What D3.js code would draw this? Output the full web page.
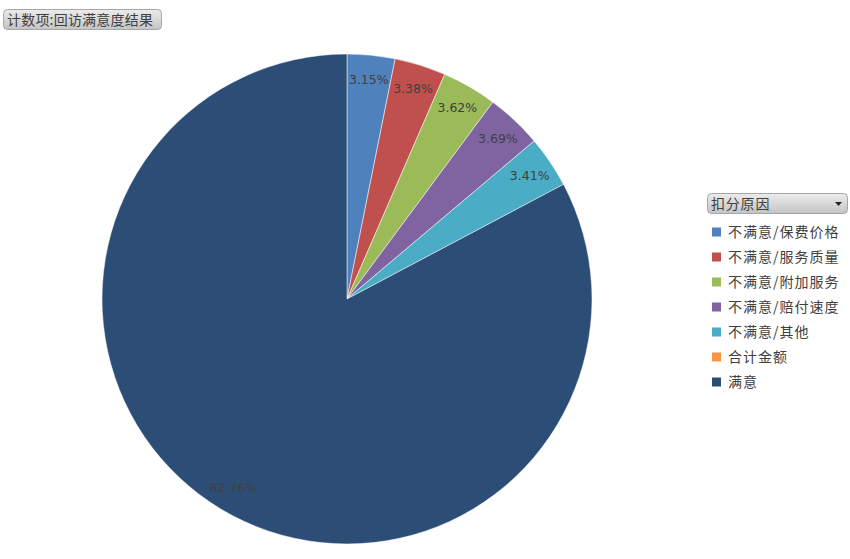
<!DOCTYPE html>
<html>
<head>
<meta charset="utf-8">
<script src="https://cdn.jsdelivr.net/npm/d3@7"></script>
<style>
  body { margin: 0; background: #fff; }
  text { font-family: "Noto Sans CJK SC", "DejaVu Sans", sans-serif; }
</style>
</head>
<body>
<svg id="chart" width="850" height="559"></svg>
<script>
var categories = ["不满意/保费价格", "不满意/服务质量", "不满意/附加服务", "不满意/赔付速度", "不满意/其他", "合计金额", "满意"];
var values = [3.15, 3.38, 3.62, 3.69, 3.41, 0, 82.76];
var colors = ["#4F81BD", "#C0504D", "#9BBB59", "#8064A2", "#4BACC6", "#F79646", "#2C4D75"];
var title = "计数项:回访满意度结果";
var legendTitle = "扣分原因";

var svg = d3.select("#chart");
var cx = 347, cy = 299, radius = 245;

var defs = svg.append("defs");
var grad = defs.append("linearGradient").attr("id", "btn").attr("x1", 0).attr("y1", 0).attr("x2", 0).attr("y2", 1);
grad.append("stop").attr("offset", "0%").attr("stop-color", "#ececec");
grad.append("stop").attr("offset", "100%").attr("stop-color", "#c4c4c4");

var data = categories.map((c, i) => ({name: c, value: values[i], color: colors[i]}));

var pie = d3.pie().sort(null).value(d => d.value);
var arc = d3.arc().innerRadius(0).outerRadius(radius);
var labelArc = d3.arc().innerRadius(radius * 0.9).outerRadius(radius * 0.9);

var g = svg.append("g").attr("transform", `translate(${cx},${cy})`);
var arcs = pie(data).filter(d => d.value > 0);

g.selectAll("path")
  .data(arcs)
  .enter().append("path")
  .attr("d", arc)
  .attr("fill", d => d.data.color)
  .attr("stroke", "#fff")
  .attr("stroke-width", 0.5);

g.selectAll("text.lbl")
  .data(arcs)
  .enter().append("text")
  .attr("class", "lbl")
  .attr("transform", d => `translate(${labelArc.centroid(d)})`)
  .attr("text-anchor", "middle")
  .attr("dy", "0.35em")
  .attr("font-size", 12.5)
  .attr("fill", "#404040")
  .style("font-family", "'DejaVu Sans', sans-serif")
  .text(d => d.data.value.toFixed(2) + "%");

// title button
svg.append("rect")
  .attr("x", 3.5).attr("y", 9.5).attr("width", 158).attr("height", 20)
  .attr("rx", 4).attr("fill", "url(#btn)").attr("stroke", "#a6a6a6");
svg.append("text")
  .attr("x", 7).attr("y", 25)
  .attr("font-size", 14).attr("fill", "#404040")
  .style("letter-spacing", "0.2px")
  .text(title);

// legend
var legend = svg.append("g").attr("transform", "translate(707,193)");
legend.append("rect")
  .attr("x", 0.5).attr("y", 0.5).attr("width", 140).attr("height", 20)
  .attr("rx", 4).attr("fill", "url(#btn)").attr("stroke", "#a6a6a6");
legend.append("text")
  .attr("x", 4).attr("y", 16)
  .attr("font-size", 14).attr("fill", "#404040")
  .style("letter-spacing", "0.8px")
  .text(legendTitle);
legend.append("path")
  .attr("d", "M128,9 L135,9 L131.5,13 Z")
  .attr("fill", "#222");

var items = legend.selectAll("g.item")
  .data(data)
  .enter().append("g")
  .attr("class", "item")
  .attr("transform", (d, i) => `translate(0,${39 + i * 25})`);
items.append("rect")
  .attr("x", 5).attr("y", -4.5).attr("width", 9).attr("height", 9)
  .attr("fill", d => d.color);
items.append("text")
  .attr("x", 21).attr("y", 0).attr("dy", "0.35em")
  .attr("font-size", 14).attr("fill", "#404040")
  .style("letter-spacing", "1px")
  .text(d => d.name);
</script>
</body>
</html>
